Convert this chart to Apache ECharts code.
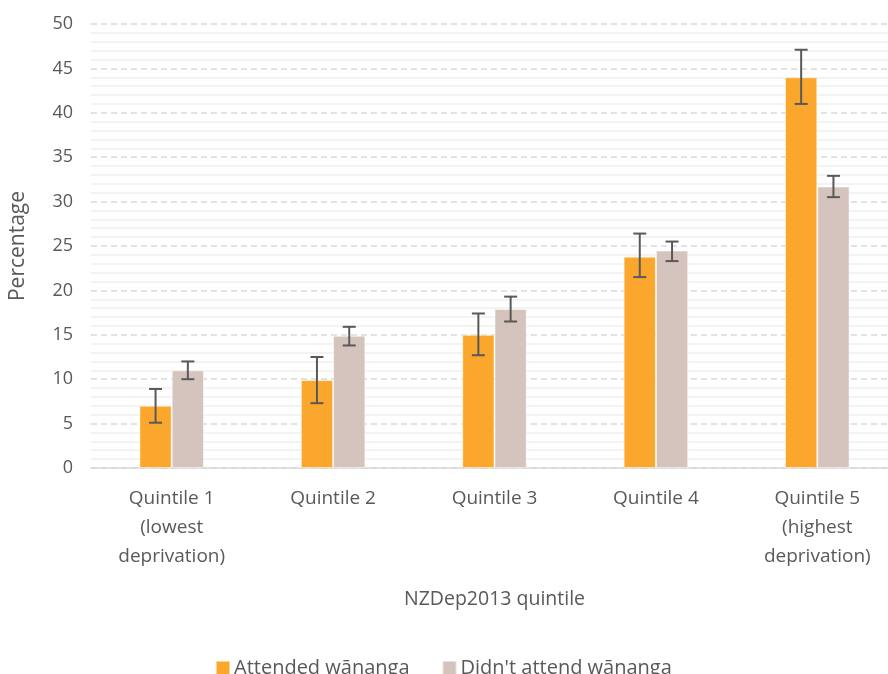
<!DOCTYPE html>
<html>
<head>
<meta charset="utf-8">
<script src="https://cdn.jsdelivr.net/npm/echarts@6/dist/echarts.min.js"></script>
<style>html,body{margin:0;padding:0;background:#fff;overflow:hidden}#c{width:900px;height:674px}</style>
</head>
<body>
<div id="c"></div>
<script>
var categories = ['Quintile 1\n(lowest\ndeprivation)', 'Quintile 2', 'Quintile 3', 'Quintile 4', 'Quintile 5\n(highest\ndeprivation)'];
var attended = [7.0, 9.9, 15.0, 23.8, 44.0];
var attendedLow = [5.1, 7.3, 12.7, 21.5, 41.0];
var attendedHigh = [8.9, 12.5, 17.4, 26.4, 47.1];
var notAttended = [11.0, 14.9, 17.9, 24.5, 31.7];
var notAttendedLow = [10.0, 13.8, 16.5, 23.3, 30.5];
var notAttendedHigh = [12.0, 15.9, 19.3, 25.5, 32.9];
var seriesNames = ['Attended wānanga', "Didn't attend wānanga"];

var FONT = 'Open Sans';
var TXT = '#595959';

function errData(lo, hi) {
  return lo.map(function (v, i) { return [i, v, hi[i]]; });
}
function errRender(sign) {
  return function (params, api) {
    var idx = api.value(0);
    var lo = api.coord([idx, api.value(1)]);
    var hi = api.coord([idx, api.value(2)]);
    var bw = api.size([1, 0])[0] * 0.2;
    var x = lo[0] + sign * bw / 2;
    var cap = 6.5;
    var st = { stroke: '#595959', lineWidth: 2 };
    return {
      type: 'group',
      children: [
        { type: 'line', shape: { x1: x, y1: lo[1], x2: x, y2: hi[1] }, style: st },
        { type: 'line', shape: { x1: x - cap, y1: lo[1], x2: x + cap, y2: lo[1] }, style: st },
        { type: 'line', shape: { x1: x - cap, y1: hi[1], x2: x + cap, y2: hi[1] }, style: st }
      ]
    };
  };
}

var chart = echarts.init(document.getElementById('c'));
chart.setOption({
  animation: false,
  textStyle: { fontFamily: FONT },
  grid: { left: 87.5, top: 24, right: 2, height: 444, containLabel: false },
  legend: {
    bottom: -9,
    left: 210,
    itemWidth: 14, itemHeight: 14, itemGap: 32,
    icon: 'rect',
    textStyle: { color: TXT, fontSize: 20, fontFamily: FONT, padding: [0, 0, 0, -1] },
    data: seriesNames
  },
  xAxis: {
    type: 'category',
    data: categories,
    name: 'NZDep2013 quintile',
    nameLocation: 'middle',
    nameGap: 121,
    nameTextStyle: { color: TXT, fontSize: 19.5, fontFamily: FONT },
    axisLine: { lineStyle: { color: '#D9D9D9', width: 1.5 } },
    axisTick: { show: false },
    axisLabel: { color: TXT, fontSize: 19, lineHeight: 29, margin: 16, fontFamily: FONT }
  },
  yAxis: {
    type: 'value',
    min: 0, max: 50, interval: 5,
    name: 'Percentage',
    nameLocation: 'middle',
    nameGap: 62,
    nameTextStyle: { color: TXT, fontSize: 21, fontFamily: FONT },
    axisLine: { show: false },
    axisTick: { show: false },
    axisLabel: { color: TXT, fontSize: 18, margin: 18, fontFamily: FONT },
    splitLine: { show: true, lineStyle: { color: '#D9D9D9', width: 1.5, type: [6, 4] } },
    minorTick: { show: false, splitNumber: 5 },
    minorSplitLine: { show: true, lineStyle: { color: '#F0F0F0', width: 1.5 } }
  },
  series: [
    {
      name: seriesNames[0], type: 'bar', data: attended, barWidth: '20%', barGap: '0%',
      itemStyle: { color: '#FBA72D', borderColor: 'rgba(255,255,255,0.5)', borderWidth: 1 }, z: 2
    },
    {
      name: seriesNames[1], type: 'bar', data: notAttended, barWidth: '20%', barGap: '0%',
      itemStyle: { color: '#D5C4BD', borderColor: 'rgba(255,255,255,0.5)', borderWidth: 1 }, z: 2
    },
    {
      type: 'custom', name: 'errA', renderItem: errRender(-1), data: errData(attendedLow, attendedHigh),
      encode: { x: 0, y: [1, 2] }, z: 5, silent: true
    },
    {
      type: 'custom', name: 'errB', renderItem: errRender(1), data: errData(notAttendedLow, notAttendedHigh),
      encode: { x: 0, y: [1, 2] }, z: 5, silent: true
    }
  ]
});
</script>
</body>
</html>
